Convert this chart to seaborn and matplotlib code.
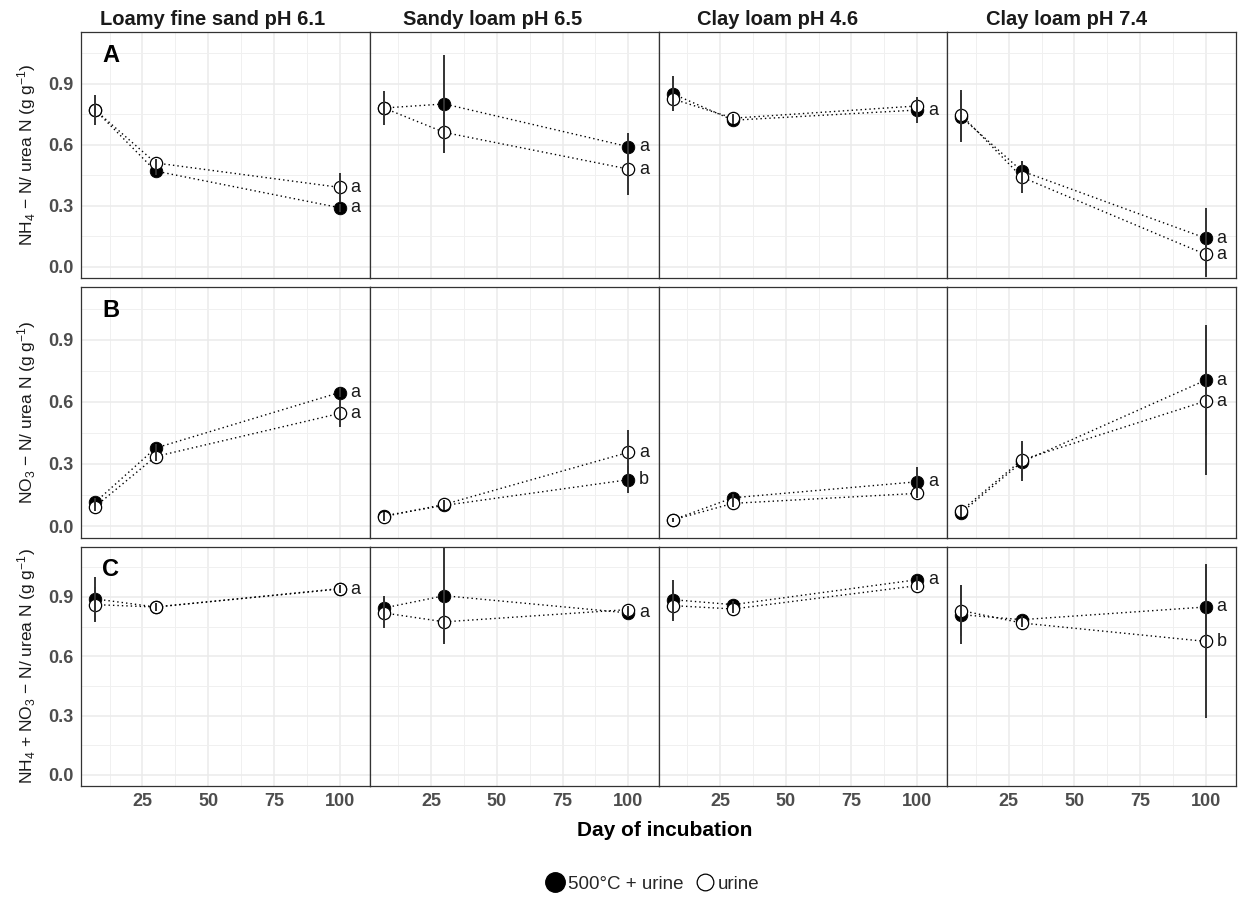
import numpy as np
import pandas as pd
import matplotlib
matplotlib.use('Agg')
import matplotlib.pyplot as plt
from matplotlib.lines import Line2D
import seaborn as sns

days = [7, 30, 100]
soils = ['Loamy fine sand pH 6.1', 'Sandy loam pH 6.5', 'Clay loam pH 4.6', 'Clay loam pH 7.4']
treatments = ['500°C + urine', 'urine']
panel_tags = ['A', 'B', 'C']

# NH4-N / urea N, one list per soil (days 7, 30, 100)
nh4_biochar = [[0.77, 0.47, 0.29], [0.78, 0.80, 0.59], [0.85, 0.72, 0.77], [0.735, 0.47, 0.14]]
nh4_urine = [[0.77, 0.51, 0.39], [0.78, 0.66, 0.48], [0.825, 0.73, 0.79], [0.745, 0.44, 0.06]]
nh4_biochar_se = [[0.02, 0.02, 0.02], [0.03, 0.24, 0.066], [0.085, 0.02, 0.063], [0.12, 0.05, 0.15]]
nh4_urine_se = [[0.075, 0.02, 0.07], [0.082, 0.10, 0.127], [0.06, 0.02, 0.04], [0.123, 0.08, 0.11]]
nh4_letters_biochar = ['a', 'a', 'a', 'a']
nh4_letters_urine = ['a', 'a', '', 'a']

# NO3-N / urea N
no3_biochar = [[0.115, 0.377, 0.645], [0.05, 0.10, 0.224], [0.03, 0.137, 0.214], [0.065, 0.31, 0.705]]
no3_urine = [[0.094, 0.336, 0.544], [0.046, 0.105, 0.356], [0.03, 0.11, 0.158], [0.075, 0.32, 0.604]]
no3_biochar_se = [[0.02, 0.02, 0.02], [0.02, 0.02, 0.066], [0.01, 0.02, 0.072], [0.02, 0.09, 0.267]]
no3_urine_se = [[0.02, 0.02, 0.067], [0.02, 0.02, 0.11], [0.01, 0.02, 0.02], [0.02, 0.09, 0.355]]
no3_letters_biochar = ['a', 'b', 'a', 'a']
no3_letters_urine = ['a', 'a', '', 'a']

# NH4 + NO3 - N / urea N
tot_biochar = [[0.89, 0.849, 0.94], [0.844, 0.906, 0.819], [0.886, 0.861, 0.987], [0.81, 0.785, 0.849]]
tot_urine = [[0.861, 0.849, 0.942], [0.819, 0.774, 0.836], [0.856, 0.839, 0.957], [0.831, 0.768, 0.675]]
tot_biochar_se = [[0.11, 0.02, 0.02], [0.06, 0.245, 0.02], [0.10, 0.02, 0.02], [0.148, 0.02, 0.218]]
tot_urine_se = [[0.09, 0.02, 0.02], [0.078, 0.10, 0.02], [0.08, 0.02, 0.02], [0.13, 0.02, 0.387]]
tot_letters_biochar = ['a', 'a', 'a', 'a']
tot_letters_urine = ['', '', '', 'b']

ylabels = [r'NH$_4$ − N/ urea N (g g$^{-1}$)',
           r'NO$_3$ − N/ urea N (g g$^{-1}$)',
           r'NH$_4$ + NO$_3$ − N/ urea N (g g$^{-1}$)']

rows = [
    (nh4_biochar, nh4_urine, nh4_biochar_se, nh4_urine_se, nh4_letters_biochar, nh4_letters_urine),
    (no3_biochar, no3_urine, no3_biochar_se, no3_urine_se, no3_letters_biochar, no3_letters_urine),
    (tot_biochar, tot_urine, tot_biochar_se, tot_urine_se, tot_letters_biochar, tot_letters_urine),
]

records = []
for r, (vb, vu, sb, su, lb, lu) in enumerate(rows):
    for s, soil in enumerate(soils):
        for d, day in enumerate(days):
            records.append(dict(row=r, soil=soil, day=day, treatment=treatments[0],
                                value=vb[s][d], se=sb[s][d], letter=lb[s] if d == 2 else ''))
            records.append(dict(row=r, soil=soil, day=day, treatment=treatments[1],
                                value=vu[s][d], se=su[s][d], letter=lu[s] if d == 2 else ''))
df = pd.DataFrame(records)

sns.set_theme(style='whitegrid')
plt.rcParams['font.family'] = ['Liberation Sans', 'DejaVu Sans']
plt.rcParams['mathtext.default'] = 'regular'

W, H = 1238, 900
fig = plt.figure(figsize=(W / 100, H / 100), dpi=100)
gs = fig.add_gridspec(3, 4, left=81 / W, right=1236 / W, top=1 - 31.7 / H, bottom=1 - 785.7 / H,
                      wspace=0, hspace=0.0367, height_ratios=[246, 250.4, 239])

# strip titles sit a bit left of the panel centre in the original
title_x = [0.457, 0.426, 0.413, 0.413]

grey_text = '#4D4D4D'
for r in range(3):
    for c, soil in enumerate(soils):
        ax = fig.add_subplot(gs[r, c])
        sub = df[(df.row == r) & (df.soil == soil)]
        sns.lineplot(data=sub, x='day', y='value', hue='treatment',
                     palette={treatments[0]: 'black', treatments[1]: 'black'},
                     linestyle=(0, (1, 2.2)), linewidth=1.0, legend=False, ax=ax, zorder=2)
        fb = sub[sub.treatment == treatments[0]]
        fu = sub[sub.treatment == treatments[1]]
        sns.scatterplot(data=fb, x='day', y='value', color='black', s=82,
                        edgecolor='black', linewidth=0.6, legend=False, ax=ax, zorder=3)
        sns.scatterplot(data=fu, x='day', y='value', color='white', s=78,
                        edgecolor='black', linewidth=0.9, legend=False, ax=ax, zorder=4)
        for part in (fb, fu):
            ax.errorbar(part['day'], part['value'], yerr=part['se'], fmt='none',
                        ecolor='#333333', elinewidth=1.4, capsize=0, zorder=5)
            for _, rec in part.iterrows():
                if rec['letter']:
                    ax.text(106, rec['value'], rec['letter'], ha='center', va='center',
                            fontsize=13, color='#1a1a1a', zorder=6)
        ax.set_xlim(1.6, 111.5)
        ax.set_ylim(-0.055, 1.155)
        ax.set_xticks([25, 50, 75, 100])
        ax.set_xticks([12.5, 37.5, 62.5, 87.5], minor=True)
        ax.set_yticks([0, 0.3, 0.6, 0.9])
        ax.set_yticks([0.15, 0.45, 0.75, 1.05], minor=True)
        ax.grid(which='major', color='#EBEBEB', linewidth=1.1)
        ax.grid(which='minor', color='#F0F0F0', linewidth=0.7)
        ax.set_axisbelow(True)
        ax.set_facecolor('white')
        for sp in ax.spines.values():
            sp.set_color('#333333')
            sp.set_linewidth(0.9)
        ax.tick_params(axis='both', which='major', direction='out', length=3.5, width=0.9,
                       color='#333333', labelcolor=grey_text, labelsize=13, pad=2)
        ax.tick_params(which='minor', length=0)
        ax.set_xlabel('')
        ax.set_ylabel('')
        if r < 2:
            ax.set_xticklabels([])
        else:
            ax.set_xticklabels(['25', '50', '75', '100'], fontweight='bold')
        if c == 0:
            ax.set_yticklabels(['0.0', '0.3', '0.6', '0.9'], fontweight='bold')
            ax.set_ylabel(ylabels[r], fontsize=12.5, color='#1a1a1a')
            ax.yaxis.set_label_coords(-0.15, 0.5)
            ax.text(13, 1.04, panel_tags[r], ha='center', va='center', fontsize=17,
                    fontweight='bold', color='black')
        else:
            ax.tick_params(axis='y', which='both', left=False, labelleft=False)
        if r == 0:
            ax.set_title(soil, fontsize=14.5, fontweight='bold', color='#1a1a1a', pad=5,
                         x=title_x[c])

fig.text(665 / W, 1 - 831 / H, 'Day of incubation', ha='center', va='center',
         fontsize=15, fontweight='bold', color='black')

handles = [Line2D([], [], marker='o', linestyle='none', markersize=14, markerfacecolor='black',
                  markeredgecolor='black'),
           Line2D([], [], marker='o', linestyle='none', markersize=12, markerfacecolor='white',
                  markeredgecolor='black', markeredgewidth=0.9)]
fig.legend(handles, treatments, loc='center', bbox_to_anchor=(652 / W, 1 - 884 / H), ncol=2,
           frameon=False, fontsize=13.5, handletextpad=0.15, columnspacing=0.6, handlelength=1.1)

fig.savefig('out.png', dpi=100)
